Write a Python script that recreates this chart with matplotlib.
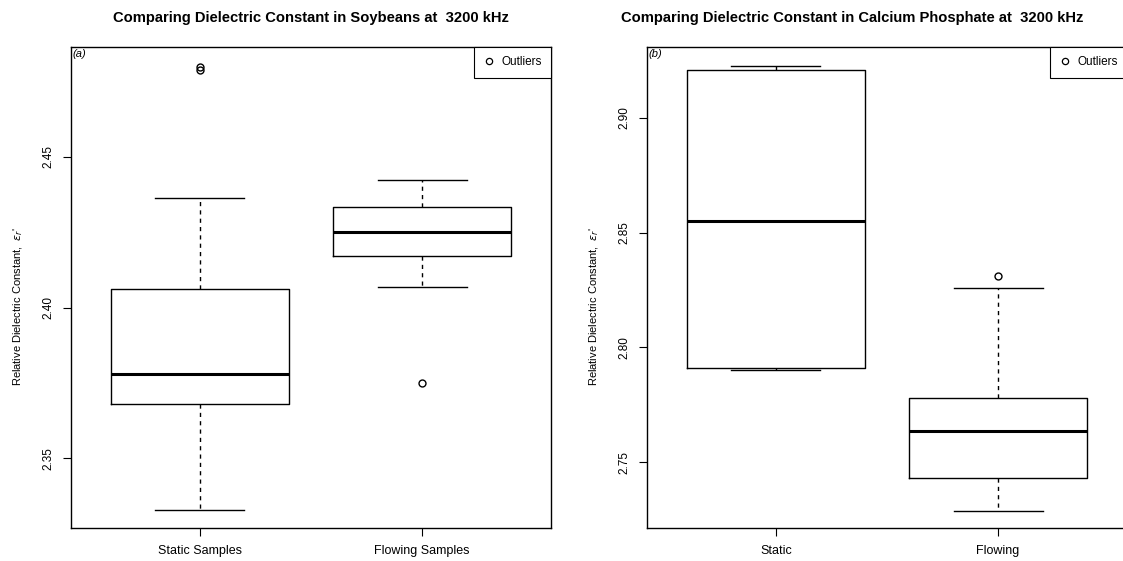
import matplotlib
matplotlib.use('Agg')
import matplotlib.pyplot as plt
from matplotlib.lines import Line2D

plt.rcParams['font.family'] = ['Liberation Sans', 'DejaVu Sans']

# soybeans (a)
soy_labels = ['Static Samples', 'Flowing Samples']
soy_whislo = [2.3327, 2.4068]
soy_q1 = [2.368, 2.4171]
soy_med = [2.378, 2.4252]
soy_q3 = [2.4062, 2.4333]
soy_whishi = [2.4364, 2.4424]
soy_fliers = [[2.4787, 2.4800], [2.3749]]
soy_yticks = [2.35, 2.40, 2.45]

# calcium phosphate (b)
cap_labels = ['Static', 'Flowing']
cap_whislo = [2.790, 2.729]
cap_q1 = [2.791, 2.7431]
cap_med = [2.855, 2.7637]
cap_q3 = [2.9207, 2.778]
cap_whishi = [2.9225, 2.8259]
cap_fliers = [[], [2.831]]
cap_yticks = [2.75, 2.80, 2.85, 2.90]


def make_stats(labels, lo, q1, med, q3, hi, fl):
    stats = []
    for i in range(len(labels)):
        stats.append({'label': labels[i], 'whislo': lo[i], 'q1': q1[i], 'med': med[i],
                      'q3': q3[i], 'whishi': hi[i], 'fliers': fl[i]})
    return stats


def draw_panel(ax, stats, yticks, ylim, title, title_x, tag):
    ax.bxp(stats, positions=[1, 2], widths=0.8, showfliers=True,
           boxprops=dict(color='black', linewidth=1.0),
           medianprops=dict(color='black', linewidth=2.2),
           whiskerprops=dict(color='black', linewidth=1.0, linestyle=(0, (3, 3))),
           capprops=dict(color='black', linewidth=1.0),
           capwidths=0.4,
           flierprops=dict(marker='o', markerfacecolor='none', markeredgecolor='black',
                           markersize=5, markeredgewidth=1.0))
    ax.set_xlim(0.42, 2.58)
    ax.set_ylim(*ylim)
    ax.set_yticks(yticks)
    ax.set_yticklabels(['%.2f' % v for v in yticks], rotation=90, va='center', fontsize=8.5)
    ax.set_xticks([1, 2])
    ax.set_xticklabels([s['label'] for s in stats], fontsize=9)
    ax.tick_params(direction='out', length=6, width=0.8)
    ax.tick_params(axis='y', pad=6)
    ax.tick_params(axis='x', pad=6)
    for sp in ax.spines.values():
        sp.set_linewidth(1.0)
    ax.set_ylabel("Relative Dielectric Constant,  $\\varepsilon_r$'", fontsize=8)
    ax.yaxis.set_label_coords(-46 / 480.0, 0.46)
    ax.set_title(title, fontsize=10.6, fontweight='bold', x=title_x, pad=18)
    ax.text(0.003, 0.995, tag, transform=ax.transAxes, fontsize=8, style='italic',
            ha='left', va='top')
    h = Line2D([], [], marker='o', linestyle='none', markerfacecolor='none',
               markeredgecolor='black', markersize=4.5, markeredgewidth=0.9)
    leg = ax.legend([h], ['Outliers'], loc='upper right', borderaxespad=0, fancybox=False,
                    edgecolor='black', framealpha=1, fontsize=8.5, handlelength=1.0,
                    handletextpad=0.5, borderpad=0.8)
    leg.get_frame().set_linewidth(0.8)


fig = plt.figure(figsize=(11.23, 5.61), dpi=100)
W, H = 1123.0, 561.0
ax1 = fig.add_axes([71 / W, 1 - 528 / H, 480 / W, 481 / H])
ax2 = fig.add_axes([647 / W, 1 - 528 / H, 480 / W, 481 / H])

draw_panel(ax1, make_stats(soy_labels, soy_whislo, soy_q1, soy_med, soy_q3, soy_whishi, soy_fliers),
           soy_yticks, (2.3268, 2.4865),
           'Comparing Dielectric Constant in Soybeans at  3200 kHz', 0.5, '(a)')
draw_panel(ax2, make_stats(cap_labels, cap_whislo, cap_q1, cap_med, cap_q3, cap_whishi, cap_fliers),
           cap_yticks, (2.7214, 2.9308),
           'Comparing Dielectric Constant in Calcium Phosphate at  3200 kHz', 0.427, '(b)')

fig.savefig('out.png', dpi=100)
